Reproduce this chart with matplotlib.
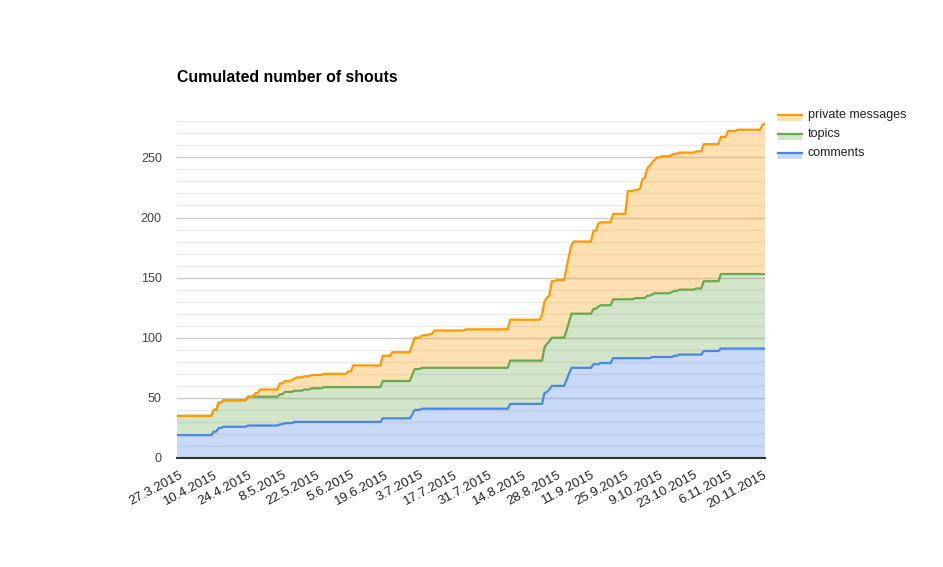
import numpy as np
import matplotlib.pyplot as plt
from matplotlib.patches import Rectangle
from matplotlib.lines import Line2D

plt.rcParams['font.family'] = ['Liberation Sans', 'DejaVu Sans']

start = np.datetime64('2015-03-26')

# day offsets (from 26.3.2015) where a cumulated count changes; value holds until next row
change_day = [0, 15, 17, 19, 29, 32, 34, 42, 44, 47, 48, 49, 52, 55, 60, 70, 72, 84, 88,
              96, 97, 100, 103, 105, 118, 136, 149, 150, 151, 152, 153, 155, 159, 160, 161,
              162, 170, 172, 173, 178, 184, 187, 189, 190, 191, 192, 193, 194, 195, 196,
              198, 202, 203, 205, 212, 215, 222, 225, 229, 239, 240]
comments = [19, 22, 25, 26, 27, 27, 27, 28, 29, 29, 30, 30, 30, 30, 30, 30, 30, 33, 33,
            36, 40, 41, 41, 41, 41, 45, 45, 54, 55, 57, 60, 60, 65, 70, 75,
            75, 78, 78, 79, 83, 83, 83, 83, 83, 83, 83, 83, 84, 84, 84,
            84, 84, 85, 86, 86, 89, 91, 91, 91, 91, 91]
topics = [16, 18, 21, 22, 24, 24, 24, 25, 26, 26, 26, 26, 27, 28, 29, 29, 29, 31, 31,
          33, 34, 34, 34, 34, 34, 36, 36, 38, 40, 40, 40, 40, 41, 43, 45,
          45, 46, 48, 48, 49, 49, 50, 50, 50, 50, 52, 52, 52, 53, 53,
          53, 54, 54, 54, 55, 58, 62, 62, 62, 62, 62]
messages = [0, 0, 0, 0, 0, 3, 6, 9, 9, 10, 10, 11, 11, 11, 11, 13, 18, 21, 24,
            25, 26, 27, 28, 31, 32, 34, 38, 38, 38, 38, 47, 48, 52, 55, 57,
            60, 65, 69, 69, 71, 90, 90, 91, 99, 100, 106, 108, 110, 111, 113,
            114, 114, 114, 114, 114, 114, 114, 119, 120, 124, 125]

names = ['comments', 'topics', 'private messages']
colors = ['#4a86e8', '#6aa84f', '#ff9900']

tick_dates = np.datetime64('2015-03-27') + 14 * np.arange(18)
tick_labels = [f"{d.day}.{d.month}.{d.year}" for d in tick_dates.astype(object)]

# daily series: each count holds its last value until it changes
days = np.arange(change_day[-1] + 1)
idx = np.searchsorted(change_day, days, side='right') - 1
series = np.array([np.array(s)[idx] for s in (comments, topics, messages)])
dates = start + days

W, H = 943, 567
fig = plt.figure(figsize=(W / 100, H / 100), dpi=100)
ax = fig.add_axes([177 / W, 1 - 458 / H, (765 - 177) / W, (458 - 121.3) / H])

ax.stackplot(dates, series, colors=colors, alpha=0.3, linewidth=0, zorder=2)
for top, c in zip(np.cumsum(series, axis=0), colors):
    ax.plot(dates, top, color=c, lw=1.6, zorder=3, solid_joinstyle='round')

ax.set_xlim(dates[0], dates[-1])
ax.set_ylim(0, 280)
ax.set_yticks(np.arange(0, 251, 50))
ax.set_yticks(np.arange(0, 281, 10), minor=True)
ax.grid(which='minor', axis='y', color='#ebebeb', lw=1, zorder=0)
ax.grid(which='major', axis='y', color='#cccccc', lw=1, zorder=0)
ax.set_axisbelow(True)
ax.axhline(0, color='#333333', lw=1.5, zorder=4, clip_on=False)
for s in ax.spines.values():
    s.set_visible(False)
ax.tick_params(which='both', length=0)
ax.tick_params(axis='y', labelsize=9, labelcolor='#444444', pad=11)

ax.set_xticks(tick_dates)
ax.set_xticklabels(tick_labels, rotation=28, ha='right', rotation_mode='anchor',
                   fontsize=9.5, color='#222222')
ax.tick_params(axis='x', pad=8)

fig.text(177 / W, 1 - 78 / H, 'Cumulated number of shouts', fontsize=11.4,
         fontweight='bold', va='center', ha='left', color='#000000')

# legend: line sample over a light fill swatch, top entry is the top layer
for i, (name, c) in enumerate(zip(names[::-1], colors[::-1])):
    y = 1 - (115 + 19 * i) / H
    fig.add_artist(Rectangle((778 / W, y - 5.5 / H), 24 / W, 5.5 / H,
                             facecolor=c, alpha=0.3, lw=0))
    fig.add_artist(Line2D([778 / W, 802 / W], [y, y], color=c, lw=1.6))
    fig.text(808 / W, y, name, fontsize=9, color='#222222', va='center', ha='left')

plt.savefig('out.png', dpi=100)
